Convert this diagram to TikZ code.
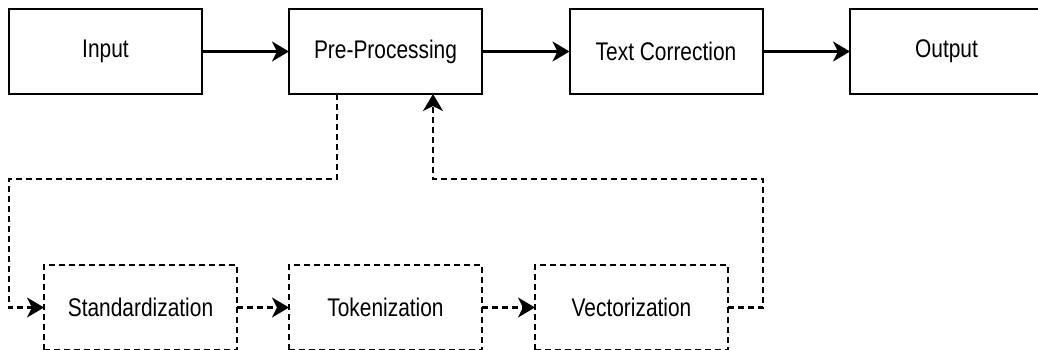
\documentclass[tikz,border=0pt]{standalone}
\usepackage{fontspec}
\setmainfont{Liberation Sans}[FakeStretch=0.82]
\usetikzlibrary{arrows.meta}
\begin{document}
\begin{tikzpicture}[x=1pt,y=-1pt,
  box/.style={draw=black,line width=2pt,minimum width=193pt,minimum height=85pt,
    inner sep=0pt,outer sep=0pt,font=\fontsize{25.5}{30}\selectfont},
  dbox/.style={box,dash pattern=on 6pt off 4pt},
  conn/.style={line width=2.2pt,-{Stealth[length=17pt,width=20pt,inset=5pt]}},
  dconn/.style={conn,dash pattern=on 6pt off 4pt}]
\useasboundingbox (0,0) rectangle (1038,349);
\clip (0,0) rectangle (1038,349);
\node[box] (in) at (105.5,51.5) {Input};
\node[box] (pre) at (385.5,51.5) {Pre-Processing};
\node[box] (tc) at (666,51.5) {Text Correction};
\node[box] (out) at (946.5,51.5) {Output};
\node[dbox] (std) at (140.5,307.5) {Standardization};
\node[dbox] (tok) at (385.5,307.5) {Tokenization};
\node[dbox] (vec) at (631.5,307.5) {Vectorization};
\draw[conn] (in) -- (pre);
\draw[conn] (pre) -- (tc);
\draw[conn] (tc) -- (out);
\draw[dconn] (std) -- (tok);
\draw[dconn] (tok) -- (vec);
\coordinate (d1) at (337,179);
\coordinate (d2) at (9,179);
\coordinate (r1) at (763,179);
\coordinate (r2) at (433,179);
\draw[dconn] (pre.south -| d1) -- (d1) -- (d2) |- (std.west);
\draw[dconn] (vec.east) -| (r1) -- (r2) -- (pre.south -| r2);
\end{tikzpicture}
\end{document}
